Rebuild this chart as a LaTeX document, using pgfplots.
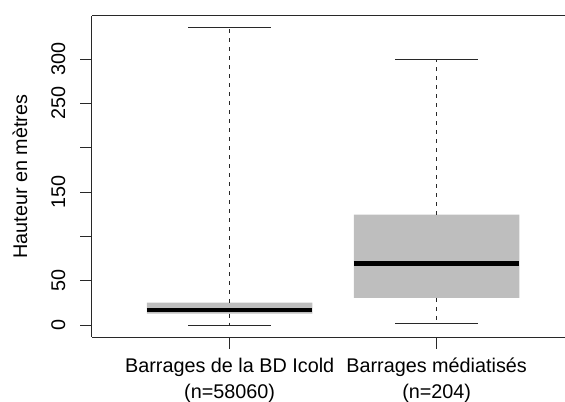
\documentclass[border=0pt]{standalone}
\usepackage{fontspec}
\setmainfont{Liberation Sans}
\usepackage{pgfplots}
\pgfplotsset{compat=1.18}
\definecolor{rgray}{RGB}{190,190,190}
\definecolor{rline}{RGB}{40,40,40}
\begin{document}
\begin{tikzpicture}
\begin{axis}[
  at={(0,0)}, anchor=south west,
  scale only axis, width=473bp, height=321bp,
  xmin=0.335, xmax=2.62, ymin=-13.2, ymax=348.5,
  axis x line*=bottom, axis y line*=left,
  axis line style={-, line width=1bp, rline},
  tick style={line width=1bp, rline},
  tick align=outside, major tick length=11.5bp,
  xtick={1,2},
  xticklabels={{Barrages de la BD Icold\\(n=58060)},{Barrages médiatisés\\(n=204)}},
  xticklabel style={align=center, anchor=north, inner sep=0pt, yshift=-9.5bp, font=\fontsize{19.8bp}{25.5bp}\selectfont},
  ytick={0,50,100,150,200,250,300},
  yticklabels={0,50,,150,,250,300},
  yticklabel style={xshift=-15bp, rotate=90, anchor=south, inner sep=0pt, font=\fontsize{19.8bp}{23bp}\selectfont},
  /pgf/number format/assume math mode=true,
  ylabel={Hauteur en mètres},
  every axis y label/.style={at={(axis description cs:-0.1374,0.5)}, rotate=90, anchor=base, font=\fontsize{19.8bp}{23bp}\selectfont},
  clip=false,
]
% Box 1: BD Icold (lw 0.3, q1 13.2, med 17.3, q3 25.6, uw 335)
\addplot[draw=none, fill=rgray] coordinates {(0.6,13.2) (1.4,13.2) (1.4,25.6) (0.6,25.6) (0.6,13.2)};
\addplot[rline, line width=0.8bp, dash pattern=on 4bp off 5bp] coordinates {(1,25.6) (1,335)};
\addplot[rline, line width=0.8bp, dash pattern=on 4bp off 5bp] coordinates {(1,13.2) (1,0.3)};
\addplot[rline, line width=1bp] coordinates {(0.8,335) (1.2,335)};
\addplot[rline, line width=1bp] coordinates {(0.8,0.3) (1.2,0.3)};
\addplot[black, line width=4.5bp] coordinates {(0.6,17.3) (1.4,17.3)};
% Box 2: médiatisés (lw 1.9, q1 30.8, med 69.9, q3 124.8, uw 300)
\addplot[draw=none, fill=rgray] coordinates {(1.6,30.8) (2.4,30.8) (2.4,124.8) (1.6,124.8) (1.6,30.8)};
\addplot[rline, line width=0.8bp, dash pattern=on 4bp off 5bp] coordinates {(2,124.8) (2,300)};
\addplot[rline, line width=0.8bp, dash pattern=on 4bp off 5bp] coordinates {(2,30.8) (2,1.9)};
\addplot[rline, line width=1bp] coordinates {(1.8,300) (2.2,300)};
\addplot[rline, line width=1bp] coordinates {(1.8,1.9) (2.2,1.9)};
\addplot[black, line width=4.5bp] coordinates {(1.6,69.9) (2.4,69.9)};
\draw[line width=1bp, rline] (rel axis cs:0,1) -- (rel axis cs:1,1);
\end{axis}
\pgfresetboundingbox
\path[use as bounding box] (-92bp,-65bp) rectangle (473bp,337bp);
\end{tikzpicture}
\end{document}
